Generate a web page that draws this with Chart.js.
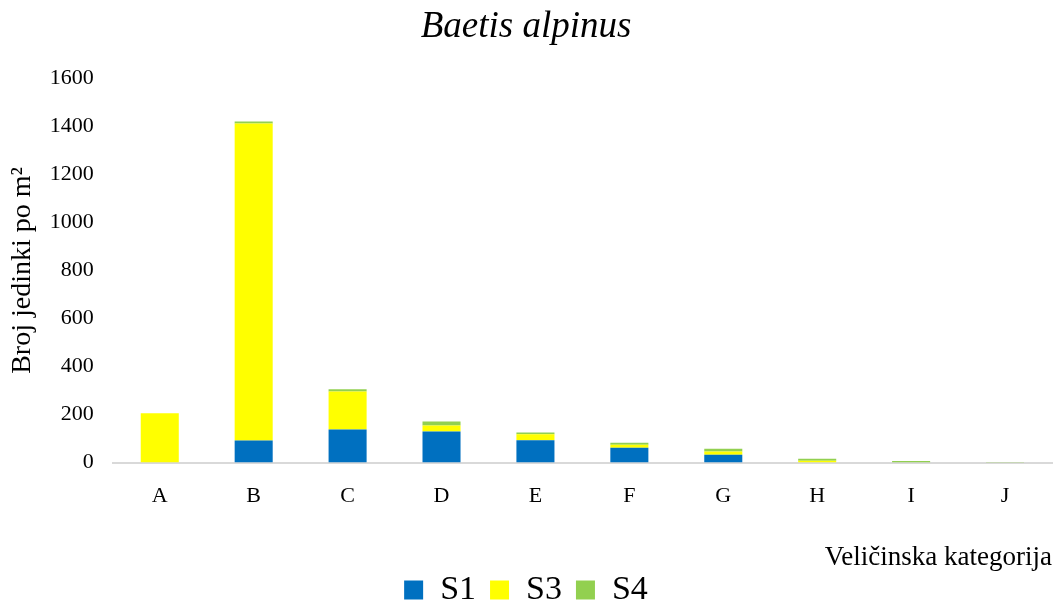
<!DOCTYPE html>
<html>
<head>
<meta charset="utf-8">
<script src="https://cdn.jsdelivr.net/npm/chart.js@4"></script>
<style>
  html, body { margin: 0; padding: 0; background: #fff; }
  #wrap { width: 1059px; height: 605px; }
</style>
</head>
<body>
<div id="wrap"><canvas id="c" width="1059" height="605"></canvas></div>
<script>
// size categories and the three sampling sites
const categories = ['A', 'B', 'C', 'D', 'E', 'F', 'G', 'H', 'I', 'J'];
const s1 = [0, 92, 138, 130, 93, 62, 33, 0, 0, 0];
const s3 = [205, 1320, 158, 25, 25, 12, 13, 8, 0, 0];
const s4 = [0, 8, 9, 16, 7, 9, 12, 8, 7, 3];
const yTicks = [0, 200, 400, 600, 800, 1000, 1200, 1400, 1600];

const serif = 'Liberation Serif, Times New Roman, serif';

new Chart(document.getElementById('c'), {
  type: 'bar',
  data: {
    labels: categories,
    datasets: [
      { label: 'S1', data: s1, backgroundColor: '#0070c0' },
      { label: 'S3', data: s3, backgroundColor: '#ffff00' },
      { label: 'S4', data: s4, backgroundColor: '#92d050' }
    ]
  },
  options: {
    responsive: false,
    animation: false,
    layout: { padding: { left: 0, right: 7, top: 0, bottom: -12 } },
    datasets: { bar: { categoryPercentage: 1, barPercentage: 0.405 } },
    plugins: {
      title: {
        display: true,
        text: 'Baetis alpinus',
        color: '#000',
        font: { family: serif, size: 37, style: 'italic', weight: 'normal' },
        padding: { top: 5, bottom: 29 }
      },
      legend: {
        position: 'bottom',
        labels: {
          color: '#000',
          font: { family: serif, size: 34 },
          boxWidth: 19,
          boxHeight: 19,
          padding: 14
        }
      },
      tooltip: { enabled: false }
    },
    scales: {
      x: {
        stacked: true,
        grid: { display: false, drawTicks: false },
        border: { display: true, color: '#d9d9d9', width: 2 },
        ticks: { color: '#000', font: { family: serif, size: 22 }, padding: 20 },
        title: {
          display: true,
          text: 'Veličinska kategorija',
          align: 'end',
          color: '#000',
          font: { family: serif, size: 27, lineHeight: 1 },
          padding: { top: 15, bottom: -12 }
        }
      },
      y: {
        stacked: true,
        min: 0,
        max: 1600,
        grid: { display: false, drawTicks: false },
        border: { display: false },
        afterBuildTicks: (axis) => { axis.ticks = yTicks.map(v => ({ value: v })); },
        ticks: {
          color: '#000',
          font: { family: serif, size: 22 },
          padding: 19,
          callback: (v) => String(v)
        },
        title: {
          display: true,
          text: 'Broj jedinki po m²',
          color: '#000',
          font: { family: serif, size: 28, lineHeight: 0.6 },
          padding: { top: 14, bottom: 0 }
        }
      }
    }
  }
});
</script>
</body>
</html>
